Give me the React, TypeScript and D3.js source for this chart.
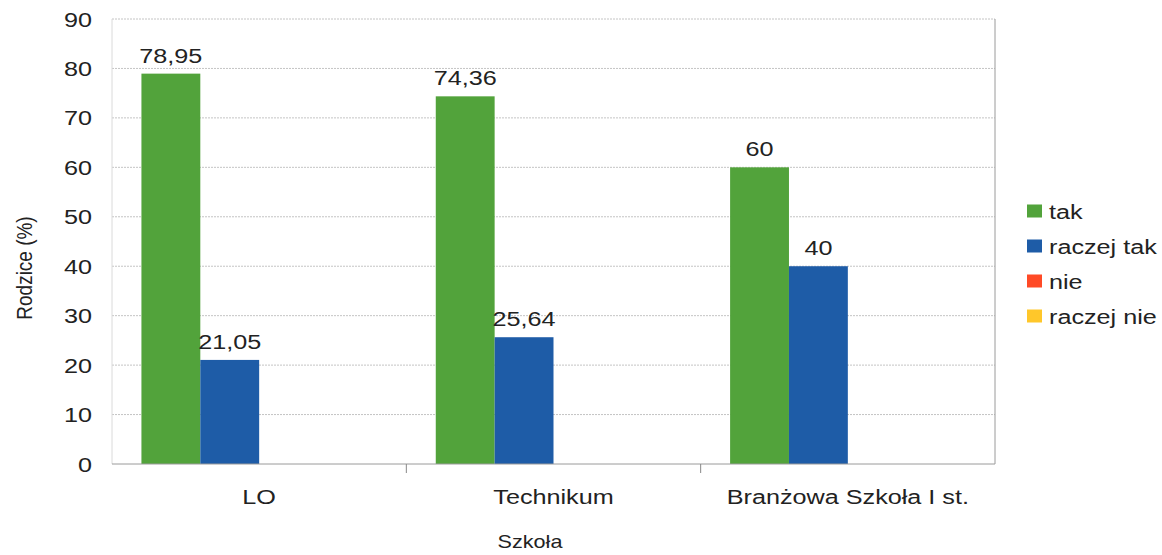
import React from "react";
import * as d3 from "d3";

const categories = ["LO", "Technikum", "Branżowa Szkoła I st."];
const seriesNames = ["tak", "raczej tak", "nie", "raczej nie"];
const seriesColors = ["#52a33b", "#1e5ca7", "#ff4a26", "#ffc72a"];
const tak = [78.95, 74.36, 60];
const raczejTak = [21.05, 25.64, 40];
const nie: (number | null)[] = [null, null, null];
const raczejNie: (number | null)[] = [null, null, null];
const yTicks = [0, 10, 20, 30, 40, 50, 60, 70, 80, 90];

const seriesValues = [tak, raczejTak, nie, raczejNie];

const W = 1162;
const H = 555;
const m = { left: 112, right: 995, top: 19, bottom: 464 };
const FONT = "'Liberation Sans', Arial, sans-serif";
const SX = 1.2;

function T(props: { x: number; y: number; anchor?: string; size?: number; children: React.ReactNode }) {
  const { x, y, anchor = "start", size = 21, children } = props;
  return (
    <text
      transform={`translate(${x},${y}) scale(${SX},1)`}
      textAnchor={anchor}
      fontSize={size}
      fill="#222"
    >
      {children}
    </text>
  );
}

export default function App() {
  const x = d3.scaleBand<string>().domain(categories).range([m.left, m.right]).paddingInner(0).paddingOuter(0);
  const bw = x.bandwidth();
  const inner = d3
    .scaleBand<string>()
    .domain(seriesNames)
    .range([0, bw])
    .paddingInner(0)
    .paddingOuter(0.5);
  const y = d3.scaleLinear().domain([0, 90]).range([m.bottom, m.top]);
  const fmt = (v: number) => String(v).replace(".", ",");

  return (
    <svg width={W} height={H} style={{ position: "absolute", left: 0, top: 0, background: "#fff" }} fontFamily={FONT}>
      <rect x={0} y={0} width={W} height={H} fill="#fff" />
      {yTicks.map((t) => (
        <g key={t}>
          {t > 0 && (
            <line x1={m.left} x2={m.right} y1={y(t)} y2={y(t)} stroke="#c4c4c4" strokeWidth={1} strokeDasharray="2,1" />
          )}
          <T x={92} y={y(t) + 7.5} anchor="end">
            {t}
          </T>
        </g>
      ))}
      <line x1={m.left} x2={m.left} y1={m.top} y2={m.bottom} stroke="#dadada" />
      <line x1={m.right} x2={m.right} y1={m.top} y2={m.bottom} stroke="#9a9a9a" />
      {seriesValues.map((vals, si) =>
        vals.map((v, ci) => {
          if (v == null) return null;
          const bx = (x(categories[ci]) as number) + (inner(seriesNames[si]) as number);
          return (
            <g key={`${si}-${ci}`}>
              <rect x={bx} y={y(v)} width={inner.bandwidth()} height={y(0) - y(v)} fill={seriesColors[si]} />
              <T x={bx + inner.bandwidth() / 2} y={y(v) - 11} anchor="middle">
                {fmt(v)}
              </T>
            </g>
          );
        })
      )}
      <line x1={m.left} x2={m.right} y1={m.bottom} y2={m.bottom} stroke="#9a9a9a" />
      {categories.slice(1).map((c) => (
        <line key={c} x1={x(c)} x2={x(c)} y1={m.bottom} y2={m.bottom + 9} stroke="#888" />
      ))}
      {categories.map((c) => (
        <T key={c} x={(x(c) as number) + bw / 2} y={504} anchor="middle">
          {c}
        </T>
      ))}
      <T x={530} y={548} anchor="middle" size={18}>
        Szkoła
      </T>
      <text
        transform={`translate(24,268) rotate(-90) scale(1,${SX})`}
        textAnchor="middle"
        dy="0.35em"
        fontSize={19}
        fill="#222"
      >
        Rodzice (%)
      </text>
      {seriesNames.map((s, i) => (
        <g key={s} transform={`translate(1027,${211 + i * 35})`}>
          <rect x={0} y={-6.5} width={15} height={13} fill={seriesColors[i]} />
          <T x={22} y={7.5}>
            {s}
          </T>
        </g>
      ))}
    </svg>
  );
}
